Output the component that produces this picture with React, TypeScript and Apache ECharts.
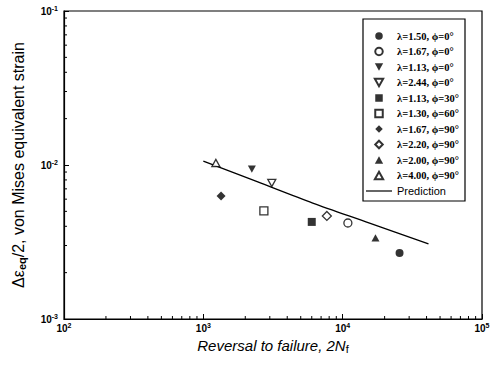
import React, { useEffect, useRef } from "react";
import * as echarts from "echarts";

// ---- data ----
const X_MIN = 100;
const X_MAX = 100000;
const Y_MIN = 0.001;
const Y_MAX = 0.1;
const X_DECADES = [100, 1000, 10000];
const Y_DECADES = [0.001, 0.01];
const MINOR_MULTS = [2, 3, 4, 5, 6, 7, 8, 9];

const SERIES_NAMES = [
  "λ=1.50, ϕ=0°",
  "λ=1.67, ϕ=0°",
  "λ=1.13, ϕ=0°",
  "λ=2.44, ϕ=0°",
  "λ=1.13, ϕ=30°",
  "λ=1.30, ϕ=60°",
  "λ=1.67, ϕ=90°",
  "λ=2.20, ϕ=90°",
  "λ=2.00, ϕ=90°",
  "λ=4.00, ϕ=90°",
];
// [reversals to failure 2Nf, strain amplitude]
const SERIES_POINTS: number[][][] = [
  [[25600, 0.00268]],
  [[10900, 0.0042]],
  [[2230, 0.0094]],
  [[3100, 0.00764]],
  [[6000, 0.00427]],
  [[2720, 0.00503]],
  [[1340, 0.00629]],
  [[7700, 0.00467]],
  [[17200, 0.00336]],
  [[1230, 0.0103]],
];
const PREDICTION_NAME = "Prediction";
const PREDICTION: number[][] = [
  [1000, 0.0106],
  [2460, 0.00776],
  [6100, 0.00566],
  [15600, 0.0042],
  [41300, 0.00307],
];

const CIRCLE = "path://M5,0A5,5 0 1,1 5,10A5,5 0 1,1 5,0Z";
const DOWN_TRI = "path://M0,0L10,0L5,9Z";
const UP_TRI = "path://M5,0L10,9L0,9Z";
const SQUARE = "path://M0,0L10,0L10,10L0,10Z";
const DIAMOND = "path://M5,0L10,5L5,10L0,5Z";
const LINE_ICON = "path://M0,0L26,0L26,1.2L0,1.2Z";
const SYMBOLS = [
  CIRCLE,
  CIRCLE,
  DOWN_TRI,
  DOWN_TRI,
  SQUARE,
  SQUARE,
  DIAMOND,
  DIAMOND,
  UP_TRI,
  UP_TRI,
];
const FILLED = [true, false, true, false, true, false, true, false, true, false];
const SYMBOL_SIZES = [8, 8, 8, 8, 8, 8, 9, 9, 8, 8];

const X_MINOR: number[] = [];
X_DECADES.forEach((d) => MINOR_MULTS.forEach((m) => X_MINOR.push(d * m)));
const Y_MINOR: number[] = [];
Y_DECADES.forEach((d) => MINOR_MULTS.forEach((m) => Y_MINOR.push(d * m)));

const supLabel = (v: number) => {
  const e = Math.round(Math.log10(v));
  return `{b|10}{s|${e}}`;
};

export default function App() {
  const ref = useRef<HTMLDivElement>(null);
  useEffect(() => {
    if (!ref.current) return;
    const chart = echarts.init(ref.current, undefined, { renderer: "svg" });

    const labelRich = {
      b: { fontFamily: "Liberation Sans", fontWeight: "bold", fontSize: 10, color: "#000" },
      s: {
        fontFamily: "Liberation Sans",
        fontWeight: "bold",
        fontSize: 7,
        color: "#000",
        padding: [0, 0, 6, 0],
      },
    };

    const scatterSeries = SERIES_NAMES.map((name, i) => ({
      type: "scatter",
      name,
      data: SERIES_POINTS[i],
      symbol: SYMBOLS[i],
      symbolSize: SYMBOL_SIZES[i],
      symbolKeepAspect: true,
      itemStyle: FILLED[i]
        ? { color: "#000", borderColor: "#000", borderWidth: 0 }
        : { color: "#fff", borderColor: "#000", borderWidth: 1.3 },
      z: 5,
    }));

    const option: any = {
      animation: false,
      backgroundColor: "#fff",
      grid: {
        left: 64,
        right: 10,
        top: 11,
        bottom: 51,
        show: true,
        borderColor: "#000",
        borderWidth: 1.2,
        containLabel: false,
        outerBoundsMode: "none",
      },
      xAxis: {
        type: "log",
        logBase: 10,
        min: X_MIN,
        max: X_MAX,
        splitLine: { show: false },
        axisLine: { lineStyle: { color: "#000", width: 1.2 } },
        axisTick: { inside: true, length: 5, lineStyle: { color: "#000" } },
        axisLabel: { margin: 3, formatter: supLabel, rich: labelRich },
        name: "Reversal to failure, 2N{sub|f}",
        nameLocation: "middle",
        nameGap: 18,
        nameTextStyle: {
          fontFamily: "Liberation Sans",
          fontStyle: "italic",
          fontSize: 15,
          color: "#000",
          rich: {
            sub: {
              fontFamily: "Liberation Sans",
              fontStyle: "normal",
              fontSize: 11,
              color: "#000",
              padding: [6, 0, 0, 0],
            },
          },
        },
      },
      yAxis: {
        type: "log",
        logBase: 10,
        min: Y_MIN,
        max: Y_MAX,
        splitLine: { show: false },
        axisLine: { lineStyle: { color: "#000", width: 1.2 } },
        axisTick: { inside: true, length: 5, lineStyle: { color: "#000" } },
        axisLabel: { margin: 6, formatter: supLabel, rich: labelRich },
        name: "Δε{sub|eq}/2, von Mises equivalent strain",
        nameLocation: "middle",
        nameRotate: 90,
        nameGap: 37,
        nameTextStyle: {
          fontFamily: "Liberation Sans",
          fontSize: 16,
          color: "#000",
          rich: {
            sub: {
              fontFamily: "Liberation Sans",
              fontWeight: "bold",
              fontSize: 11,
              color: "#000",
              padding: [7, 0, 0, 0],
            },
          },
        },
      },
      legend: {
        orient: "vertical",
        left: 363,
        top: 19,
        itemWidth: 26,
        itemHeight: 7.5,
        itemGap: 3.5,
        padding: [11, 6, 4, 3],
        borderColor: "#000",
        borderWidth: 1.2,
        backgroundColor: "#fff",
        symbolKeepAspect: true,
        textStyle: {
          fontFamily: "Liberation Serif",
          fontWeight: "bold",
          fontSize: 10.5,
          lineHeight: 12,
          color: "#000",
        },
        data: [
          ...SERIES_NAMES,
          {
            name: PREDICTION_NAME,
            icon: LINE_ICON,
            itemStyle: { color: "#000", borderWidth: 0 },
            textStyle: {
              fontFamily: "Liberation Sans",
              fontWeight: "normal",
              fontSize: 11,
              lineHeight: 12,
              color: "#000",
            },
          },
        ],
      },
      series: [
        ...scatterSeries,
        {
          type: "line",
          name: PREDICTION_NAME,
          data: PREDICTION,
          smooth: 0.3,
          showSymbol: false,
          symbol: "none",
          lineStyle: { color: "#000", width: 1.3 },
          itemStyle: { color: "#000" },
          z: 4,
        },
        {
          type: "custom",
          name: "xMinor",
          silent: true,
          data: X_MINOR.map((v) => [v, Y_MIN]),
          renderItem: (_p: any, api: any) => {
            const pt = api.coord([api.value(0), api.value(1)]);
            return {
              type: "line",
              shape: { x1: pt[0], y1: pt[1], x2: pt[0], y2: pt[1] - 3 },
              style: { stroke: "#000", lineWidth: 1 },
            };
          },
          z: 6,
        },
        {
          type: "custom",
          name: "yMinor",
          silent: true,
          data: Y_MINOR.map((v) => [X_MIN, v]),
          renderItem: (_p: any, api: any) => {
            const pt = api.coord([api.value(0), api.value(1)]);
            return {
              type: "line",
              shape: { x1: pt[0], y1: pt[1], x2: pt[0] + 3, y2: pt[1] },
              style: { stroke: "#000", lineWidth: 1 },
            };
          },
          z: 6,
        },
      ],
    };

    chart.setOption(option);
    return () => chart.dispose();
  }, []);

  return (
    <div
      ref={ref}
      style={{ position: "fixed", left: 0, top: 0, width: 492, height: 370, background: "#fff" }}
    />
  );
}
